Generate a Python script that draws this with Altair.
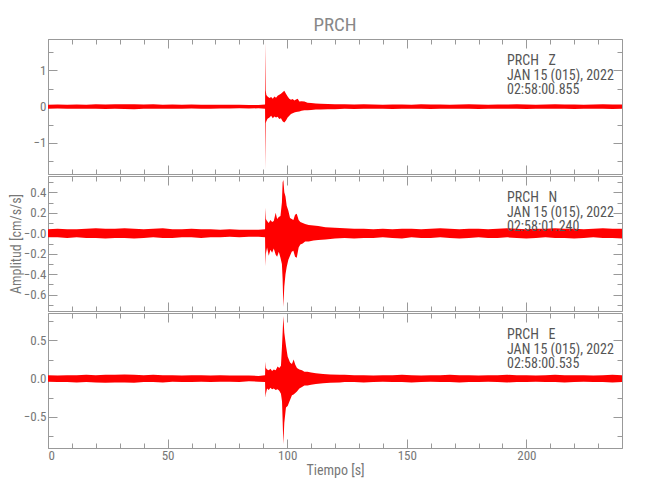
import altair as alt
import pandas as pd

FONT = "Liberation Sans Narrow, Roboto Condensed, DejaVu Sans Condensed, Liberation Sans, sans-serif"
RED = "#ff0000"
AX = "#999999"

# ---------------- data (envelopes) ----------------
X_DOMAIN = [0, 240]
X_MAJOR = [0, 50, 100, 150, 200]
X_MINOR = list(range(0, 241, 10))

quiet_pre = [0, 4, 8, 12, 16, 20, 24, 28, 32, 36, 40, 44, 48, 52, 56, 60, 64, 68, 72, 76, 80, 84, 88]
quiet_post = [124, 128, 132, 136, 140, 144, 148, 152, 156, 160, 164, 168, 172, 176, 180,
              184, 188, 192, 196, 200, 204, 208, 212, 216, 220, 224, 228, 232, 236, 240]

# Z component
z_event_t = [90.75, 90.9, 91.05, 91.3, 91.8, 92.6, 93.3, 94.0, 94.65, 95.35, 96.0, 96.7, 97.4, 98.1,
             98.8, 99.5, 100.2, 100.9, 101.6, 102.3, 103.0, 103.7, 104.4, 105.1, 106.0, 107.2, 108.5,
             110, 112, 114, 117, 120]
z_pre_hi = [0.055, 0.06, 0.05, 0.06, 0.055, 0.065, 0.06, 0.065, 0.07, 0.065, 0.06, 0.065, 0.055, 0.06,
            0.055, 0.06, 0.055, 0.05, 0.055, 0.05, 0.05, 0.045, 0.045]
z_pre_lo = [-0.055, -0.05, -0.06, -0.055, -0.06, -0.06, -0.065, -0.06, -0.065, -0.07, -0.06, -0.06,
            -0.06, -0.055, -0.06, -0.05, -0.055, -0.055, -0.05, -0.05, -0.045, -0.05, -0.045]
z_event_hi = [0.06, 1.78, 0.45, 0.32, 0.28, 0.24, 0.27, 0.22, 0.28, 0.25, 0.30, 0.33, 0.36, 0.40,
              0.44, 0.36, 0.28, 0.22, 0.19, 0.21, 0.17, 0.20, 0.22, 0.14, 0.15, 0.14, 0.11,
              0.10, 0.09, 0.08, 0.075, 0.07]
z_event_lo = [-0.06, -1.74, -0.45, -0.40, -0.33, -0.30, -0.25, -0.32, -0.27, -0.30, -0.28, -0.34, -0.32, -0.40,
              -0.44, -0.38, -0.30, -0.25, -0.20, -0.18, -0.16, -0.15, -0.14, -0.13, -0.11, -0.10, -0.10,
              -0.09, -0.08, -0.08, -0.07, -0.07]
z_post_hi = [0.065, 0.06, 0.065, 0.06, 0.055, 0.06, 0.06, 0.055, 0.065, 0.06, 0.06, 0.055, 0.06, 0.065, 0.06,
             0.055, 0.06, 0.06, 0.065, 0.06, 0.055, 0.06, 0.065, 0.06, 0.06, 0.055, 0.06, 0.065, 0.06, 0.06]
z_post_lo = [-0.06, -0.065, -0.06, -0.055, -0.06, -0.065, -0.055, -0.06, -0.06, -0.065, -0.055, -0.06, -0.06,
             -0.055, -0.065, -0.06, -0.055, -0.06, -0.06, -0.065, -0.06, -0.055, -0.06, -0.06, -0.065, -0.06,
             -0.055, -0.06, -0.065, -0.06]

# N component
n_event_t = [90.75, 90.9, 91.1, 91.6, 92.3, 93.0, 93.7, 94.4, 95.2, 95.8, 96.5, 97.2, 97.8, 98.1, 98.4,
             98.8, 99.3, 99.8, 100.5, 101.2, 101.9, 102.6, 103.3, 104.0, 104.8, 105.5, 106.5, 107.5,
             109, 111, 113, 116, 120]
n_pre_hi = [0.04, 0.045, 0.04, 0.04, 0.045, 0.05, 0.045, 0.045, 0.05, 0.045, 0.04, 0.045, 0.05, 0.04,
            0.04, 0.045, 0.04, 0.04, 0.035, 0.04, 0.035, 0.035, 0.035]
n_pre_lo = [-0.04, -0.04, -0.045, -0.04, -0.045, -0.045, -0.05, -0.045, -0.045, -0.05, -0.045, -0.04,
            -0.045, -0.045, -0.04, -0.04, -0.045, -0.04, -0.04, -0.035, -0.04, -0.035, -0.035]
n_event_hi = [0.04, 0.25, 0.14, 0.12, 0.10, 0.13, 0.11, 0.12, 0.20, 0.14, 0.16, 0.17, 0.30, 0.50, 0.52,
              0.40, 0.36, 0.27, 0.22, 0.15, 0.14, 0.13, 0.18, 0.19, 0.13, 0.11, 0.10, 0.09,
              0.08, 0.075, 0.07, 0.06, 0.055]
n_event_lo = [-0.04, -0.32, -0.20, -0.14, -0.22, -0.16, -0.19, -0.15, -0.21, -0.23, -0.18, -0.24, -0.30, -0.45,
              -0.72, -0.52, -0.40, -0.33, -0.26, -0.22, -0.18, -0.17, -0.23, -0.24, -0.14, -0.11, -0.10,
              -0.08, -0.08, -0.07, -0.065, -0.06, -0.05]
n_post_hi = [0.05, 0.045, 0.045, 0.04, 0.045, 0.04, 0.045, 0.045, 0.04, 0.045, 0.05, 0.045, 0.04, 0.045,
             0.045, 0.04, 0.045, 0.05, 0.045, 0.04, 0.045, 0.045, 0.05, 0.045, 0.045, 0.04, 0.045, 0.05,
             0.045, 0.045]
n_post_lo = [-0.045, -0.05, -0.045, -0.045, -0.04, -0.045, -0.05, -0.04, -0.045, -0.045, -0.04, -0.045,
             -0.05, -0.045, -0.04, -0.045, -0.045, -0.04, -0.045, -0.05, -0.045, -0.04, -0.045, -0.045,
             -0.05, -0.045, -0.04, -0.045, -0.045, -0.05]

# E component
e_event_t = [90.75, 90.9, 91.1, 91.6, 92.3, 93.0, 93.7, 94.4, 95.2, 96.0, 96.7, 97.4, 97.85, 98.1, 98.4,
             98.8, 99.5, 100.2, 101.2, 102.0, 102.7, 103.4, 104.1, 105.1, 106.2, 107.2, 108.5,
             110, 112, 115, 118, 122]
e_pre_hi = [0.045, 0.04, 0.045, 0.045, 0.05, 0.045, 0.05, 0.05, 0.055, 0.05, 0.045, 0.05, 0.045, 0.045,
            0.04, 0.045, 0.045, 0.04, 0.045, 0.04, 0.04, 0.04, 0.035]
e_pre_lo = [-0.04, -0.045, -0.045, -0.05, -0.045, -0.05, -0.055, -0.05, -0.05, -0.055, -0.045, -0.045,
            -0.05, -0.04, -0.045, -0.045, -0.04, -0.045, -0.04, -0.04, -0.045, -0.035, -0.04]
e_event_hi = [0.045, 0.22, 0.14, 0.12, 0.11, 0.13, 0.10, 0.12, 0.11, 0.16, 0.14, 0.17, 0.43, 0.60, 0.82,
              0.60, 0.43, 0.29, 0.21, 0.19, 0.25, 0.18, 0.14, 0.12, 0.11, 0.09, 0.09,
              0.08, 0.07, 0.06, 0.055, 0.05]
e_event_lo = [-0.045, -0.25, -0.20, -0.13, -0.15, -0.12, -0.14, -0.13, -0.15, -0.14, -0.16, -0.20, -0.30,
              -0.55, -0.86, -0.58, -0.38, -0.36, -0.28, -0.22, -0.21, -0.19, -0.17, -0.13, -0.11, -0.09,
              -0.09, -0.08, -0.07, -0.06, -0.055, -0.05]
e_post_hi = [0.05, 0.045, 0.045, 0.04, 0.045, 0.045, 0.05, 0.045, 0.04, 0.045, 0.045, 0.05, 0.045, 0.045,
             0.04, 0.045, 0.045, 0.05, 0.045, 0.045, 0.04, 0.045, 0.05, 0.045, 0.045, 0.045, 0.04, 0.045,
             0.05, 0.045]
e_post_lo = [-0.045, -0.045, -0.05, -0.045, -0.04, -0.045, -0.045, -0.05, -0.045, -0.04, -0.045, -0.045,
             -0.05, -0.045, -0.045, -0.04, -0.045, -0.05, -0.045, -0.045, -0.04, -0.045, -0.045, -0.05,
             -0.045, -0.04, -0.045, -0.045, -0.05, -0.045]

Z_DOMAIN = [-1.86, 1.87]
N_DOMAIN = [-0.76, 0.56]
E_DOMAIN = [-0.91, 0.86]
Z_MAJOR = [-1, 0, 1]
Z_MINOR = [-1.5, -1, -0.5, 0, 0.5, 1, 1.5]
N_MAJOR = [-0.6, -0.4, -0.2, 0, 0.2, 0.4]
N_MINOR = [-0.7, -0.6, -0.5, -0.4, -0.3, -0.2, -0.1, 0, 0.1, 0.2, 0.3, 0.4, 0.5]
E_MAJOR = [-0.5, 0, 0.5]
E_MINOR = [-0.75, -0.5, -0.25, 0, 0.25, 0.5, 0.75]

SP = "\u00a0\u00a0\u00a0"
Z_LABEL = "PRCH" + SP + "Z\nJAN 15 (015), 2022\n02:58:00.855"
N_LABEL = "PRCH" + SP + "N\nJAN 15 (015), 2022\n02:58:01.240"
E_LABEL = "PRCH" + SP + "E\nJAN 15 (015), 2022\n02:58:00.535"

W, H = 574, 135
MAJ, MIN = 9, 5


def make_df(pre_hi, pre_lo, ev_t, ev_hi, ev_lo, post_hi, post_lo):
    return pd.DataFrame({
        "t": quiet_pre + ev_t + quiet_post,
        "hi": pre_hi + ev_hi + post_hi,
        "lo": pre_lo + ev_lo + post_lo,
    })


def panel(df, ydom, ymaj, ymin, ylabel_expr, label, bottom_labels=False, ytitle=None, title=None):
    xs = alt.Scale(domain=X_DOMAIN, nice=False, zero=False)
    ys = alt.Scale(domain=ydom, nice=False, zero=False)
    base = alt.Chart(df)

    def xax(orient, vals, size, labels, ttl=None):
        return alt.Axis(orient=orient, values=vals, tickSize=size, offset=-size, labels=labels,
                        title=ttl, labelPadding=1, titlePadding=1, domain=False, grid=False)

    def yax(orient, vals, size, labels, ttl=None):
        return alt.Axis(orient=orient, values=vals, tickSize=size, offset=-size, labels=labels,
                        labelExpr=ylabel_expr, title=ttl, labelPadding=2, titlePadding=0,
                        domain=False, grid=False)

    def layer(xa, ya, opacity):
        return base.mark_area(color=RED, opacity=opacity).encode(
            x=alt.X("t:Q", scale=xs, axis=xa),
            y=alt.Y("hi:Q", scale=ys, axis=ya),
            y2=alt.Y2("lo:Q"),
        )

    l1 = layer(xax("bottom", X_MAJOR, MAJ, bottom_labels, "Tiempo [s]" if bottom_labels else None),
               yax("left", ymaj, MAJ, True, ytitle), 1)
    l2 = layer(xax("bottom", X_MINOR, MIN, False), yax("left", ymin, MIN, False), 0)
    l3 = layer(xax("top", X_MAJOR, MAJ, False), yax("right", ymaj, MAJ, False), 0)
    l4 = layer(xax("top", X_MINOR, MIN, False), yax("right", ymin, MIN, False), 0)
    txt = alt.Chart(pd.DataFrame({"label": [label]})).mark_text(
        align="left", baseline="alphabetic", lineBreak="\n", lineHeight=14.5,
        font=FONT, fontSize=14, color="#555555"
    ).encode(x=alt.value(459), y=alt.value(26), text="label:N")

    ch = alt.layer(l2, l3, l4, l1, txt).resolve_axis(x="independent", y="independent").properties(
        width=W, height=H)
    if title is not None:
        ch = ch.properties(title=alt.TitleParams(title, font=FONT, fontSize=19, color="#888888",
                                                 fontWeight="normal", anchor="middle", frame="group",
                                                 offset=4))
    return ch


pz = panel(make_df(z_pre_hi, z_pre_lo, z_event_t, z_event_hi, z_event_lo, z_post_hi, z_post_lo),
           Z_DOMAIN, Z_MAJOR, Z_MINOR, "format(datum.value, 'd')", Z_LABEL, title="PRCH")
pn = panel(make_df(n_pre_hi, n_pre_lo, n_event_t, n_event_hi, n_event_lo, n_post_hi, n_post_lo),
           N_DOMAIN, N_MAJOR, N_MINOR,
           "datum.value === 0 ? '\u22120.0' : format(datum.value, '.1f')", N_LABEL,
           ytitle="Amplitud [cm/s/s]")
pe = panel(make_df(e_pre_hi, e_pre_lo, e_event_t, e_event_hi, e_event_lo, e_post_hi, e_post_lo),
           E_DOMAIN, E_MAJOR, E_MINOR, "format(datum.value, '.1f')", E_LABEL, bottom_labels=True)

chart = alt.vconcat(pz, pn, pe, spacing=0).properties(
    padding={"left": 0, "top": 7, "right": 5, "bottom": 5}
).configure_view(stroke=AX, strokeWidth=1).configure_axis(
    labelFont=FONT, labelFontSize=13, labelColor="#777777", tickColor=AX, tickWidth=1,
    titleFont=FONT, titleFontSize=14, titleColor="#777777", titleFontWeight="normal"
)

chart.save("out.html", embed_options={"renderer": "svg", "actions": False})
